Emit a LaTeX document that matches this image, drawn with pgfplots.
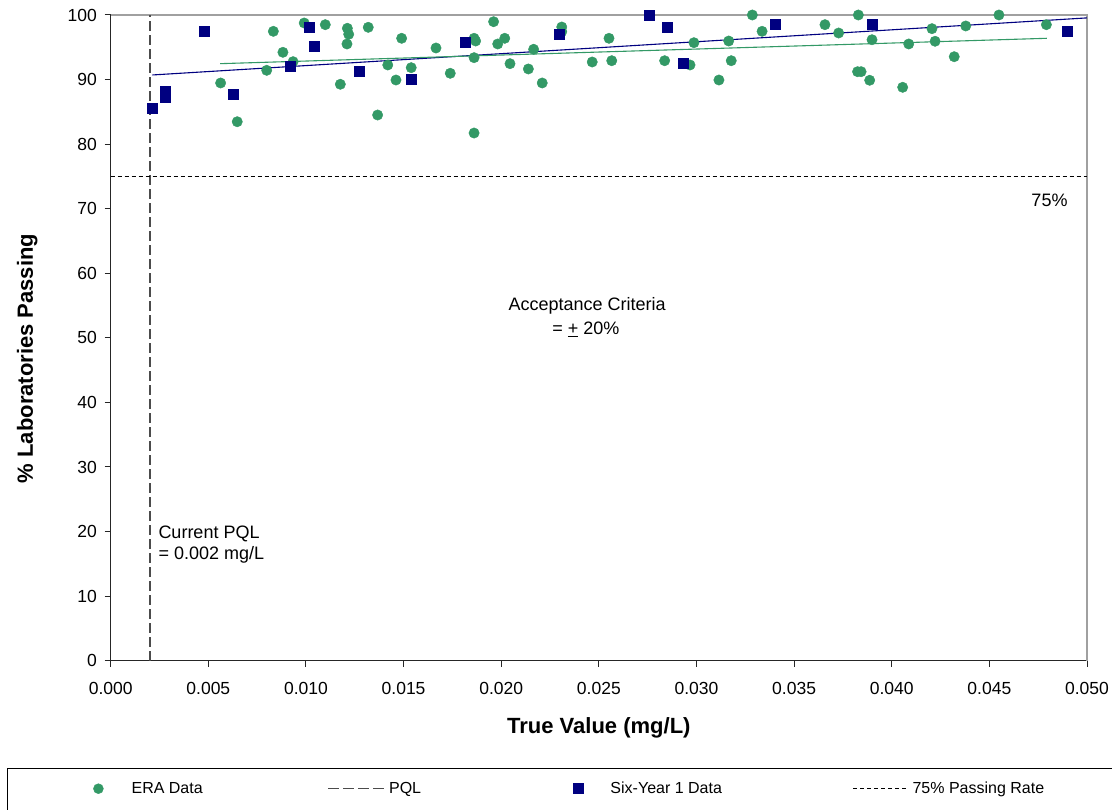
\documentclass[border=0pt]{standalone}
\usepackage{fontspec}
\setmainfont{Liberation Sans}
\usepackage{pgfplots}
\pgfplotsset{compat=1.18}
\definecolor{eragreen}{RGB}{51,153,102}
\definecolor{sixnavy}{RGB}{0,0,128}
\definecolor{pqlgray}{RGB}{75,75,75}
\definecolor{bordergray}{RGB}{160,160,160}

\pgfplotsset{
  legmark/.style={legend image code/.code={\path (0pt,-5pt) (#1,5pt); \draw[##1] plot coordinates {(5pt,0pt)};}},
  legline/.style 2 args={legend image code/.code={\path (0pt,-5pt) (#2,5pt); \draw[##1] (0pt,0pt) -- (#1,0pt);}},
}

\pgfplotstableread{
x y
0.00563 89.47
0.00648 83.47
0.00799 91.43
0.00833 97.47
0.00882 94.22
0.00934 92.77
0.00991 98.76
0.01099 98.50
0.01176 89.27
0.01212 97.94
0.01219 97.01
0.01210 95.51
0.01319 98.09
0.01367 84.51
0.01419 92.26
0.01461 89.93
0.01490 96.39
0.01539 91.84
0.01666 94.89
0.01739 90.97
0.01861 96.39
0.01869 95.97
0.01861 93.39
0.01861 81.72
0.01961 98.96
0.01982 95.51
0.02018 96.39
0.02045 92.46
0.02139 91.64
0.02166 94.69
0.02210 89.47
0.02310 98.14
0.02310 97.41
0.02466 92.72
0.02552 96.39
0.02566 92.92
0.02837 92.92
0.02967 92.26
0.02987 95.71
0.03115 89.93
0.03165 95.97
0.03178 92.92
0.03286 100.0
0.03336 97.47
0.03658 98.50
0.03728 97.21
0.03829 100.0
0.03899 96.17
0.03825 91.22
0.03843 91.22
0.03887 89.89
0.04056 88.80
0.04087 95.51
0.04206 97.88
0.04222 95.93
0.04320 93.54
0.04379 98.30
0.04549 100.0
0.04792 98.50
}\eradata

\pgfplotstableread{
x y
0.00213 85.55
0.00278 88.23
0.00278 87.30
0.00478 97.47
0.00628 87.77
0.00920 92.05
0.01017 98.14
0.01041 95.09
0.01275 91.37
0.01539 90.09
0.01818 95.71
0.02296 97.01
0.02758 100.0
0.02851 98.09
0.02931 92.46
0.03401 98.50
0.03899 98.50
0.04899 97.47
}\sixdata

\begin{document}
\begin{tikzpicture}
\path[use as bounding box] (0,0) rectangle (1112pt,810pt);
\begin{axis}[
  at={(110.7pt,149.3pt)}, anchor=south west,
  scale only axis, width=976.3pt, height=645.7pt,
  xmin=0, xmax=0.05, ymin=0, ymax=100,
  clip=false,
  axis x line*=bottom, axis y line*=left,
  axis line style={black!85, line width=1.5pt},
  tick align=outside, major tick length=6pt,
  tick style={black!85, line width=1pt},
  xtick={0,0.005,0.01,0.015,0.02,0.025,0.03,0.035,0.04,0.045,0.05},
  ytick={0,10,20,30,40,50,60,70,80,90,100},
  scaled x ticks=false,
  /pgf/number format/assume math mode=true,
  x tick label style={/pgf/number format/fixed, /pgf/number format/fixed zerofill, /pgf/number format/precision=3,
     font=\fontsize{17.5}{20}\selectfont, inner sep=0pt, anchor=north, yshift=-15pt},
  y tick label style={font=\fontsize{17.5}{20}\selectfont, inner sep=0pt, anchor=east, xshift=-7.7pt},
  xlabel={True Value (mg/L)},
  ylabel={\% Laboratories Passing},
  every axis x label/.style={at={(0.5,-0.1120)}, anchor=base, font=\fontsize{22}{26}\selectfont\bfseries},
  every axis y label/.style={at={(-0.0854,0.468)}, anchor=center, rotate=90, font=\fontsize{22}{26}\selectfont\bfseries},
  legend columns=4,
  legend cell align=left,
  legend style={draw=none, fill=none, inner sep=0pt, column sep=0pt,
     nodes={inner sep=0pt, anchor=west},
     at={(-0.01813,-0.19824)}, anchor=west, font=\fontsize{16}{19}\selectfont},
]
% plot-area border (top, right)
\draw[bordergray, line width=1.8pt] (rel axis cs:0,1) -- (rel axis cs:1,1) -- (rel axis cs:1,0);

% reference lines
\addplot[pqlgray, line width=1.6pt, dash pattern=on 10pt off 4pt, forget plot] coordinates {(0.002,0) (0.002,100)};
\addplot[black, line width=1.1pt, dash pattern=on 4pt off 3pt, forget plot] coordinates {(0,75) (0.05,75)};

% trend lines
\addplot[sixnavy, line width=1.1pt, forget plot] coordinates {(0.00213,90.71) (0.0500,99.55)};
\addplot[eragreen, line width=1.1pt, forget plot] coordinates {(0.0056,92.46) (0.04794,96.39)};

% data
\addplot[only marks, mark=*, mark size=5.2pt, color=eragreen, forget plot] table[x=x,y=y] {\eradata};
\addplot[only marks, mark=square*, mark size=5pt, color=sixnavy, forget plot] table[x=x,y=y] {\sixdata};

% annotations
\node[font=\fontsize{18}{22}\selectfont, inner sep=0pt, anchor=base] at (axis cs:0.02440,54.31) {Acceptance Criteria};
\node[font=\fontsize{18}{22}\selectfont, inner sep=0pt, anchor=base] at (axis cs:0.02434,50.44) {= \underline{+} 20\%};
\node[font=\fontsize{18}{22}\selectfont, inner sep=0pt, anchor=base west] at (axis cs:0.002438,18.96) {Current PQL};
\node[font=\fontsize{18}{22}\selectfont, inner sep=0pt, anchor=base west] at (axis cs:0.002438,15.60) {= 0.002 mg/L};
\node[font=\fontsize{18}{22}\selectfont, inner sep=0pt, anchor=base] at (axis cs:0.04808,70.31) {75\%};

% legend
\addlegendimage{only marks, mark=*, mark size=5pt, color=eragreen, legmark=38pt}
\addlegendentry{\makebox[196pt][l]{ERA Data}}
\addlegendimage{pqlgray, line width=1.5pt, dash pattern=on 11pt off 4pt, legline={56pt}{60pt}}
\addlegendentry{\makebox[184pt][l]{PQL}}
\addlegendimage{only marks, mark=square*, mark size=5pt, color=sixnavy, legmark=37pt}
\addlegendentry{\makebox[242pt][l]{Six-Year 1 Data}}
\addlegendimage{black, line width=1.1pt, dash pattern=on 4pt off 3pt, legline={55pt}{59pt}}
\addlegendentry{75\% Passing Rate}
\end{axis}
\draw[black, line width=1pt] (7.5pt,41pt) rectangle (1130pt,-20pt);
\end{tikzpicture}
\end{document}
